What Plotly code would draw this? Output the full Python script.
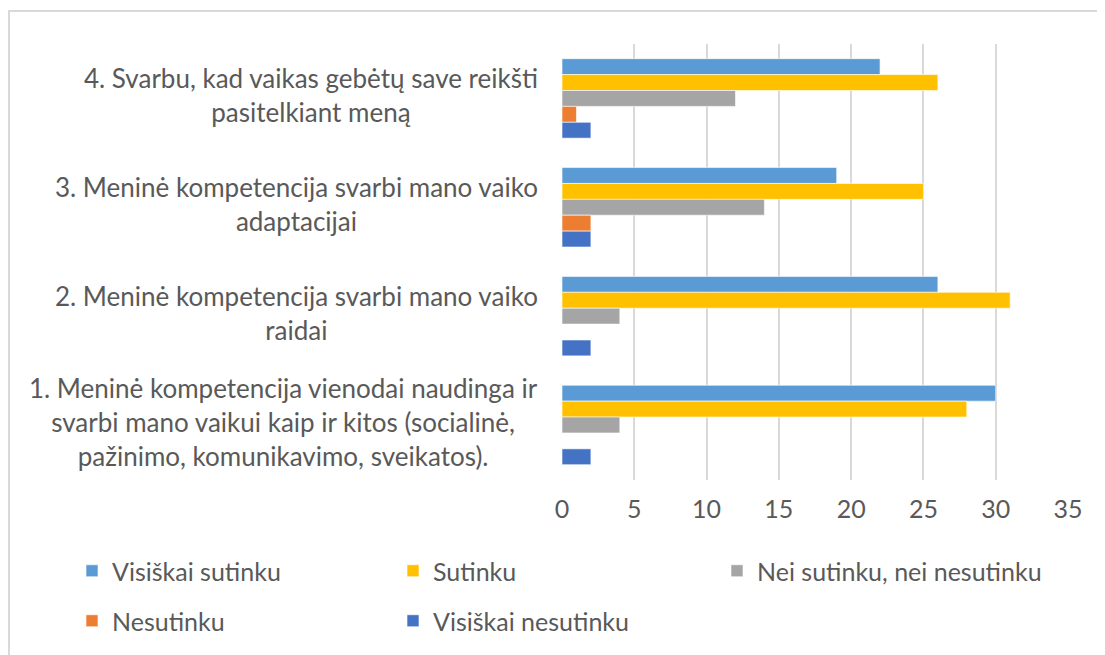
import plotly.graph_objects as go

categories = [
    "1. Meninė kompetencija vienodai naudinga ir<br>svarbi mano vaikui kaip ir kitos (socialinė,<br>pažinimo, komunikavimo, sveikatos).",
    "2. Meninė kompetencija svarbi mano vaiko<br>raidai",
    "3. Meninė kompetencija svarbi mano vaiko<br>adaptacijai",
    "4. Svarbu, kad vaikas gebėtų save reikšti<br>pasitelkiant meną",
]
series_names = ["Visiškai sutinku", "Sutinku", "Nei sutinku, nei nesutinku", "Nesutinku", "Visiškai nesutinku"]
visiskai_sutinku = [30, 26, 19, 22]
sutinku = [28, 31, 25, 26]
nei = [4, 4, 14, 12]
nesutinku = [0, 0, 2, 1]
visiskai_nesutinku = [2, 2, 2, 2]
x_ticks = [0, 5, 10, 15, 20, 25, 30, 35]

values = [visiskai_sutinku, sutinku, nei, nesutinku, visiskai_nesutinku]
colors = ["#5B9BD5", "#FFC000", "#A5A5A5", "#ED7D31", "#4472C4"]
legend_ids = ["legend", "legend2", "legend3", "legend4", "legend5"]
# screen positions (text left x, row top y) of each legend entry
legend_pos = [(72, 548), (393, 548), (717, 548), (72, 598), (393, 598)]

FONT = "Lato"
TXT = "#595959"

fig = go.Figure()
for name, vals, col, lg in zip(series_names, values, colors, legend_ids):
    fig.add_trace(go.Bar(
        y=categories, x=vals, name=name, orientation="h",
        marker=dict(color=col, line=dict(color="rgba(255,255,255,0.6)", width=1)),
        legend=lg,
    ))

for cat in categories:
    fig.add_annotation(
        x=0, xref="paper", y=cat, yref="y", xanchor="right", xshift=-22, yshift=3,
        text=cat, align="center", showarrow=False,
        font=dict(family=FONT, size=26, color=TXT),
    )

W, H = 1105, 655
OFF = 8  # page body margin
L, R, T, B = 554, 45, 36, 183
pw, ph = W - L - R, H - T - B

def px_x(s):
    return (s - OFF - L) / pw

def px_y(s):
    return (H - B - (s - OFF)) / ph

fig.add_shape(type="rect", xref="paper", yref="paper",
              x0=px_x(9), x1=px_x(1125), y0=px_y(680), y1=px_y(11),
              line=dict(color="#D9D9D9", width=2), fillcolor="rgba(0,0,0,0)", layer="below")

legend_layout = {}
for lg, (lx, ly) in zip(legend_ids, legend_pos):
    legend_layout[lg] = dict(
        orientation="h", x=px_x(lx), y=px_y(ly), xanchor="left", yanchor="top",
        font=dict(family=FONT, size=25, color=TXT), bgcolor="rgba(0,0,0,0)",
    )

fig.update_layout(
    width=W, height=H,
    margin=dict(l=L, r=R, t=T, b=B),
    paper_bgcolor="white", plot_bgcolor="white",
    barmode="group", bargap=0.27, bargroupgap=0,
    font=dict(family=FONT, size=25, color=TXT),
    xaxis=dict(range=[0, 35], tickvals=x_ticks, showgrid=True, gridcolor="#D9D9D9", gridwidth=2,
               zeroline=False, showline=False, ticks="", ticklabelstandoff=12,
               tickfont=dict(family=FONT, size=25, color=TXT)),
    yaxis=dict(type="category", categoryorder="array", categoryarray=categories[::-1],
               autorange="reversed", showticklabels=False, showgrid=False, zeroline=False, ticks=""),
    showlegend=True,
    **legend_layout,
)

fig.write_html("out.html")
